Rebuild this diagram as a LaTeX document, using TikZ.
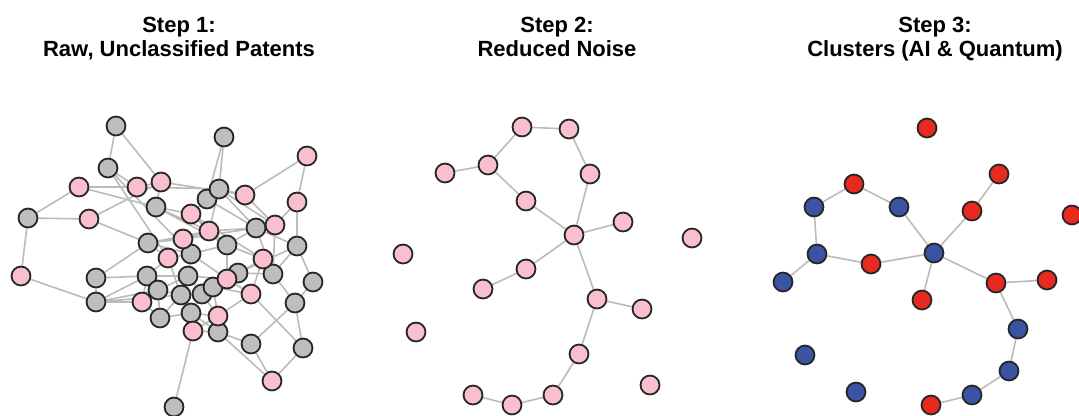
\documentclass[tikz,border=0pt]{standalone}
\usepackage{fontspec}
\setmainfont{Liberation Sans}
\usetikzlibrary{backgrounds}
\definecolor{nodepink}{HTML}{F9BFCC}
\definecolor{nodegray}{HTML}{BEBEBE}
\definecolor{nodered}{HTML}{E8291F}
\definecolor{nodeblue}{HTML}{3A54A3}
\definecolor{edgegray}{HTML}{BBBBBB}

\begin{document}
\begin{tikzpicture}[x=0.75pt, y=-0.75pt,
    patent/.style={circle, draw=black!85, line width=1.35pt, fill=#1, minimum size=14.2pt, inner sep=0pt},
    link/.style={line width=1.2pt, color=edgegray},
    steptitle/.style={font=\bfseries\fontsize{16.5}{16.5}\selectfont, align=center}
]
\useasboundingbox (0,0) rectangle (1079,415);

% Titles
\node[steptitle] (t1) at (179,40) {Step 1:\strut\\Raw, Unclassified Patents\strut};
\node[steptitle] (t2) at (557,40) {Step 2:\strut\\Reduced Noise\strut};
\node[steptitle] (t3) at (935,40) {Step 3:\strut\\Clusters (AI \& Quantum)\strut};

% Step 1: raw patents (gray)
\node[patent=nodegray] (g1) at (116,126) {};
\node[patent=nodegray] (g2) at (224,137) {};
\node[patent=nodegray] (g3) at (108,168) {};
\node[patent=nodegray] (g4) at (156,207) {};
\node[patent=nodegray] (g5) at (207,199) {};
\node[patent=nodegray] (g6) at (219,189) {};
\node[patent=nodegray] (g7) at (28,218) {};
\node[patent=nodegray] (g8) at (148,243) {};
\node[patent=nodegray] (g9) at (256,228) {};
\node[patent=nodegray] (g10) at (227,245) {};
\node[patent=nodegray] (g11) at (297,246) {};
\node[patent=nodegray] (g12) at (191,254) {};
\node[patent=nodegray] (g13) at (96,278) {};
\node[patent=nodegray] (g14) at (147,276) {};
\node[patent=nodegray] (g15) at (188,276) {};
\node[patent=nodegray] (g16) at (238,273) {};
\node[patent=nodegray] (g17) at (273,274) {};
\node[patent=nodegray] (g18) at (313,282) {};
\node[patent=nodegray] (g19) at (96,302) {};
\node[patent=nodegray] (g20) at (158,290) {};
\node[patent=nodegray] (g21) at (181,295) {};
\node[patent=nodegray] (g22) at (202,294) {};
\node[patent=nodegray] (g23) at (213,287) {};
\node[patent=nodegray] (g24) at (295,303) {};
\node[patent=nodegray] (g25) at (160,318) {};
\node[patent=nodegray] (g26) at (191,313) {};
\node[patent=nodegray] (g27) at (218,332) {};
\node[patent=nodegray] (g28) at (251,344) {};
\node[patent=nodegray] (g29) at (303,348) {};
\node[patent=nodegray] (g30) at (174,407) {};

% Step 1: raw patents (pink)
\node[patent=nodepink] (p1) at (79,187) {};
\node[patent=nodepink] (p2) at (137,187) {};
\node[patent=nodepink] (p3) at (161,182) {};
\node[patent=nodepink] (p4) at (89,219) {};
\node[patent=nodepink] (p5) at (191,214) {};
\node[patent=nodepink] (p6) at (245,195) {};
\node[patent=nodepink] (p7) at (307,156) {};
\node[patent=nodepink] (p8) at (297,202) {};
\node[patent=nodepink] (p9) at (209,231) {};
\node[patent=nodepink] (p10) at (275,225) {};
\node[patent=nodepink] (p11) at (183,239) {};
\node[patent=nodepink] (p12) at (168,258) {};
\node[patent=nodepink] (p13) at (263,259) {};
\node[patent=nodepink] (p14) at (21,276) {};
\node[patent=nodepink] (p15) at (142,302) {};
\node[patent=nodepink] (p16) at (227,279) {};
\node[patent=nodepink] (p17) at (251,294) {};
\node[patent=nodepink] (p18) at (218,316) {};
\node[patent=nodepink] (p19) at (193,331) {};
\node[patent=nodepink] (p20) at (272,381) {};

% Step 2: reduced noise
\node[patent=nodepink] (s1) at (522,127) {};
\node[patent=nodepink] (s2) at (569,129) {};
\node[patent=nodepink] (s3) at (488,165) {};
\node[patent=nodepink] (s4) at (445,173) {};
\node[patent=nodepink] (s5) at (590,174) {};
\node[patent=nodepink] (s6) at (526,201) {};
\node[patent=nodepink] (s7) at (623,222) {};
\node[patent=nodepink] (s8) at (574,235) {};
\node[patent=nodepink] (s9) at (692,238) {};
\node[patent=nodepink] (s10) at (403,254) {};
\node[patent=nodepink] (s11) at (526,269) {};
\node[patent=nodepink] (s12) at (483,289) {};
\node[patent=nodepink] (s13) at (597,299) {};
\node[patent=nodepink] (s14) at (642,309) {};
\node[patent=nodepink] (s15) at (416,332) {};
\node[patent=nodepink] (s16) at (579,354) {};
\node[patent=nodepink] (s17) at (650,385) {};
\node[patent=nodepink] (s18) at (553,395) {};
\node[patent=nodepink] (s19) at (473,395) {};
\node[patent=nodepink] (s20) at (512,405) {};

% Step 3: clusters
\node[patent=nodered] (k1) at (927,128) {};
\node[patent=nodered] (k2) at (999,174) {};
\node[patent=nodered] (k3) at (854,184) {};
\node[patent=nodeblue] (k4) at (814,207) {};
\node[patent=nodeblue] (k5) at (899,207) {};
\node[patent=nodered] (k6) at (972,211) {};
\node[patent=nodered] (k7) at (1072,215) {};
\node[patent=nodeblue] (k8) at (817,254) {};
\node[patent=nodeblue] (k9) at (934,253) {};
\node[patent=nodered] (k10) at (871,264) {};
\node[patent=nodeblue] (k11) at (783,282) {};
\node[patent=nodered] (k12) at (996,283) {};
\node[patent=nodered] (k13) at (1047,280) {};
\node[patent=nodered] (k14) at (922,300) {};
\node[patent=nodeblue] (k15) at (1018,329) {};
\node[patent=nodeblue] (k16) at (805,355) {};
\node[patent=nodeblue] (k17) at (1009,371) {};
\node[patent=nodeblue] (k18) at (856,392) {};
\node[patent=nodeblue] (k19) at (972,395) {};
\node[patent=nodered] (k20) at (931,405) {};

% Links
\begin{scope}[on background layer]
% step 1, outer links
\draw[link] (g1) -- (g3) (g1) -- (p3) (g3) -- (p2) (g3) -- (p12);
\draw[link] (p1) -- (g7) (p1) -- (p2) (p1) -- (g4) (g7) -- (p4) (g7) -- (p14);
\draw[link] (p4) -- (p3) (p14) -- (g19) (g13) -- (g19) (g13) -- (g8) (g13) -- (g14);
\draw[link] (g19) -- (p15) (g19) -- (g14) (g19) -- (g20) (g19) -- (g21);
\draw[link] (g2) -- (g6) (g2) -- (g5) (p7) -- (p6) (p7) -- (p8);
\draw[link] (p8) -- (p10) (p8) -- (g11) (g11) -- (g9) (g11) -- (g16);
\draw[link] (g11) -- (g18) (g11) -- (g17) (g18) -- (g24) (g24) -- (g29);
\draw[link] (g24) -- (g28) (g24) -- (g17) (g29) -- (p20) (g28) -- (p20);
\draw[link] (p17) -- (g29) (g27) -- (p20) (p19) -- (g30);
% step 1, dense core
\draw[link] (p2) -- (p3) (p3) -- (g4) (p3) -- (p6) (p2) -- (g6);
\draw[link] (g4) -- (p5) (g4) -- (p9) (g4) -- (g10) (p4) -- (g8);
\draw[link] (p5) -- (g5) (p5) -- (p9) (p5) -- (g10) (p5) -- (p13);
\draw[link] (g3) -- (g12) (g8) -- (p11) (g8) -- (p9) (g8) -- (g12) (g8) -- (p12);
\draw[link] (p11) -- (g9) (p11) -- (p9) (p11) -- (g12);
\draw[link] (p9) -- (g9) (p9) -- (g10) (p9) -- (g6);
\draw[link] (g5) -- (g9) (g6) -- (g9) (g6) -- (p10) (g6) -- (p6);
\draw[link] (g9) -- (p10) (g9) -- (g10) (g9) -- (g17) (p6) -- (p10);
\draw[link] (g10) -- (g12) (g10) -- (p16) (g10) -- (p13);
\draw[link] (p12) -- (g12) (p12) -- (g14) (p12) -- (g21);
\draw[link] (g12) -- (g15) (g12) -- (p16);
\draw[link] (g14) -- (g20) (g14) -- (g15) (g14) -- (p15);
\draw[link] (g15) -- (g20) (g15) -- (g21) (g15) -- (g22) (g15) -- (p16);
\draw[link] (g16) -- (p13) (g16) -- (p16) (g16) -- (g23) (g16) -- (g22);
\draw[link] (p13) -- (g17) (p13) -- (p17) (g17) -- (g16) (g17) -- (p10);
\draw[link] (p16) -- (g23) (p16) -- (p17) (p16) -- (g22);
\draw[link] (g20) -- (g21) (g20) -- (p15) (g20) -- (g25);
\draw[link] (g21) -- (g22) (g21) -- (g26) (g21) -- (g25);
\draw[link] (g22) -- (g23) (g22) -- (g26) (g22) -- (p18);
\draw[link] (g23) -- (p18) (g23) -- (p17) (p17) -- (p18);
\draw[link] (g25) -- (g26) (g25) -- (p15) (g26) -- (p18) (g26) -- (p19) (g26) -- (g27);
\draw[link] (p18) -- (g27) (p18) -- (p19) (p19) -- (g27) (g27) -- (g28);
% step 2
\draw[link] (s1) -- (s2) (s1) -- (s3) (s3) -- (s4) (s3) -- (s6);
\draw[link] (s2) -- (s5) (s5) -- (s8) (s6) -- (s8) (s8) -- (s7);
\draw[link] (s8) -- (s11) (s11) -- (s12) (s8) -- (s13) (s13) -- (s14);
\draw[link] (s13) -- (s16) (s16) -- (s18) (s18) -- (s20) (s20) -- (s19);
% step 3
\draw[link] (k3) -- (k4) (k3) -- (k5) (k4) -- (k8) (k8) -- (k11);
\draw[link] (k8) -- (k10) (k10) -- (k9) (k5) -- (k9) (k9) -- (k6);
\draw[link] (k6) -- (k2) (k9) -- (k14) (k9) -- (k12) (k12) -- (k13);
\draw[link] (k12) -- (k15) (k15) -- (k17) (k17) -- (k19) (k19) -- (k20);
\end{scope}

\end{tikzpicture}
\end{document}
